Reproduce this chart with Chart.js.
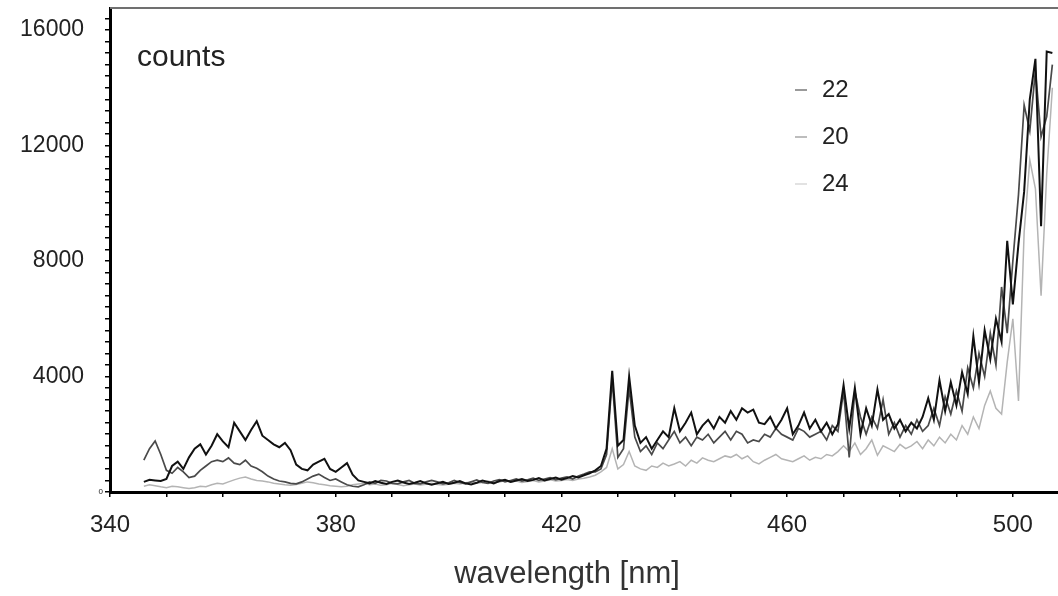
<!DOCTYPE html>
<html>
<head>
<meta charset="utf-8">
<script src="https://cdn.jsdelivr.net/npm/chart.js@4.4.1/dist/chart.umd.min.js"></script>
<style>
  html, body { margin: 0; padding: 0; background: #fff; }
  #wrap { width: 1058px; height: 596px; }
</style>
</head>
<body>
<div id="wrap"><canvas id="spectrum"></canvas></div>
<script>
// wavelength grid, nm
const wavelengths = [
  346, 347, 348, 349, 350, 351, 352, 353, 354, 355,
  356, 357, 358, 359, 360, 361, 362, 363, 364, 365,
  366, 367, 368, 369, 370, 371, 372, 373, 374, 375,
  376, 377, 378, 379, 380, 381, 382, 383, 384, 385,
  386, 387, 388, 389, 390, 391, 392, 393, 394, 395,
  396, 397, 398, 399, 400, 401, 402, 403, 404, 405,
  406, 407, 408, 409, 410, 411, 412, 413, 414, 415,
  416, 417, 418, 419, 420, 421, 422, 423, 424, 425,
  426, 427, 428, 429, 430, 431, 432, 433, 434, 435,
  436, 437, 438, 439, 440, 441, 442, 443, 444, 445,
  446, 447, 448, 449, 450, 451, 452, 453, 454, 455,
  456, 457, 458, 459, 460, 461, 462, 463, 464, 465,
  466, 467, 468, 469, 470, 471, 472, 473, 474, 475,
  476, 477, 478, 479, 480, 481, 482, 483, 484, 485,
  486, 487, 488, 489, 490, 491, 492, 493, 494, 495,
  496, 497, 498, 499, 500, 501, 502, 503, 504, 505,
  506, 507
];

const counts22 = [
  350, 420, 400, 380, 450, 900, 1050, 800, 1200, 1500,
  1650, 1300, 1600, 2000, 1750, 1550, 2400, 2100, 1800, 2150,
  2450, 1950, 1800, 1650, 1550, 1700, 1450, 950, 800, 750,
  950, 1050, 1150, 800, 700, 850, 1000, 600, 400, 350,
  300, 380, 320, 280, 350, 400, 330, 280, 320, 380,
  300, 250, 300, 350, 280, 320, 380, 300, 260, 320,
  400, 350, 300, 380, 420, 350, 400, 450, 380, 420,
  480, 400, 450, 500, 430, 480, 550, 500, 580, 650,
  750, 900, 1500, 4200, 1600, 1800, 4000, 2300, 1700, 1900,
  1500, 1800, 2100, 1900, 2900, 2100, 2400, 2750, 2000, 2300,
  2500, 2200, 2600, 2400, 2800, 2500, 2900, 2750, 2850, 2400,
  2350, 2600, 2200, 2500, 2900, 2000, 2300, 2750, 2200, 2500,
  2100, 2400, 2000, 2350, 3700, 2200, 3600, 2000, 2900, 2300,
  3550, 2500, 2700, 2200, 2500, 2100, 2400, 2200, 2600, 3250,
  2500, 3870, 2800, 3800, 3000, 4150, 3400, 5400, 3800, 5600,
  4600, 6000, 5200, 8700, 6500, 8600, 10400, 13600, 15000, 9200,
  15250, 15200
];

const counts20 = [
  1100, 1500, 1770, 1300, 750, 650, 850, 700, 500, 550,
  750, 900, 1050, 1100, 1050, 1180, 1000, 950, 1100, 900,
  820, 700, 550, 450, 380, 350, 300, 280, 350, 450,
  550, 620, 500, 400, 450, 350, 250, 200, 180, 250,
  350, 300, 400, 380, 300, 280, 350, 400, 300, 280,
  350, 400, 350, 280, 320, 400, 330, 280, 350, 420,
  330, 300, 380, 430, 350, 400, 450, 380, 420, 480,
  400, 450, 500, 420, 480, 520, 450, 550, 620, 700,
  700, 800, 1300, 3900, 1200, 1500, 3600, 1900, 1400, 1600,
  1300, 1700, 1500, 1800, 2100, 1700, 1900, 1600, 1900, 1800,
  2000, 1700, 1900, 2100, 1800, 2100, 2000, 1700, 1800, 1750,
  2000, 1900, 2200, 2000, 1900, 1800, 2200, 2100, 1900, 2000,
  2100, 1800, 2300, 2100, 3500, 1200, 3500, 2600, 2000, 2600,
  2200, 3200, 2000, 2400, 1900, 2300, 2000, 2500, 2100, 2300,
  2900, 2300, 3300, 2700, 3500, 2800, 4300, 3600, 4800, 4000,
  5500, 4400, 7100, 5500, 8000, 10300, 13400, 12500, 14600, 12300,
  13000, 14800
];

const counts24 = [
  200, 250, 220, 180, 150, 200, 180, 150, 120, 150,
  200, 180, 250, 300, 280, 350, 420, 480, 520, 450,
  400, 380, 350, 300, 280, 250, 230, 260, 300, 350,
  320, 280, 250, 220, 200, 180, 200, 250, 280, 300,
  250, 280, 230, 250, 300, 260, 220, 250, 280, 240,
  270, 300, 260, 240, 270, 300, 280, 320, 350, 300,
  330, 380, 320, 350, 400, 350, 380, 330, 360, 400,
  350, 380, 420, 380, 400, 430, 400, 450, 480, 520,
  580, 700, 850, 1500, 800, 950, 1400, 900, 800, 750,
  900, 850, 1000, 900, 970, 1050, 900, 1100, 1000, 1180,
  1100, 1050, 1150, 1250, 1200, 1300, 1150, 1250, 1050, 970,
  1100, 1200, 1300, 1150, 1100, 1050, 1150, 1250, 1100, 1200,
  1150, 1300, 1250, 1400, 1600, 1400, 1700, 1300, 1500, 1800,
  1270, 1600, 1500, 1400, 1650, 1500, 1600, 1750, 1500, 1800,
  1600, 1900, 1700, 2000, 1800, 2300, 2000, 2600, 2200, 3000,
  3500, 2900, 2700, 4500, 6000, 3150, 9000, 11500, 10500, 6800,
  11000, 14000
];

const seriesLabels = ['22', '20', '24'];
const xTickLabels = [340, 380, 420, 460, 500];
const xTickMarks = [340, 350, 360, 370, 380, 390, 400, 410, 420, 430, 440, 450, 460, 470, 480, 490, 500];
const yTickLabels = [0, 4000, 8000, 12000, 16000];
const yMinorStep = 400;

const FONT = '"Liberation Sans", Arial, sans-serif';
Chart.defaults.font.family = FONT;
Chart.defaults.color = '#222';

function toPoints(values) {
  return wavelengths.map((w, i) => ({ x: w, y: values[i] }));
}

// minor tick positions on the counts axis (every 400 up to the top label)
const yMinorTicks = [];
for (let v = 0; v <= 16400; v += yMinorStep) yMinorTicks.push(v);

function noPadding(scale) {
  scale.paddingTop = 0;
  scale.paddingBottom = 0;
  scale.paddingLeft = 0;
  scale.paddingRight = 0;
}

// frame top line, "counts", in-plot legend and the x title
const overlay = {
  id: 'overlay',
  afterDraw(chart, args, opts) {
    const { ctx, chartArea: a } = chart;
    ctx.save();
    ctx.strokeStyle = '#707070';
    ctx.lineWidth = 2;
    ctx.beginPath();
    ctx.moveTo(a.left, a.top);
    ctx.lineTo(a.right, a.top);
    ctx.stroke();

    ctx.fillStyle = '#222';
    ctx.textBaseline = 'middle';
    ctx.font = '30px ' + FONT;
    ctx.fillText('counts', a.left + 27, 58);

    ctx.font = '24px ' + FONT;
    chart.data.datasets.forEach((ds, i) => {
      const y = 90 + i * 47;
      ctx.strokeStyle = opts.markColors[i];
      ctx.lineWidth = 2;
      ctx.beginPath();
      ctx.moveTo(a.left + 685, y);
      ctx.lineTo(a.left + 697, y);
      ctx.stroke();
      ctx.fillStyle = '#222';
      ctx.fillText(ds.label, a.left + 712, y);
    });

    ctx.fillStyle = '#333';
    ctx.font = '31px ' + FONT;
    ctx.textAlign = 'center';
    ctx.fillText('wavelength [nm]', 567, 574);
    ctx.restore();
  }
};

new Chart(document.getElementById('spectrum'), {
  type: 'line',
  data: {
    datasets: [
      { label: seriesLabels[0], data: toPoints(counts22), borderColor: '#111111', borderWidth: 2 },
      { label: seriesLabels[1], data: toPoints(counts20), borderColor: '#4a4a4a', borderWidth: 1.7 },
      { label: seriesLabels[2], data: toPoints(counts24), borderColor: '#b4b4b4', borderWidth: 1.5 }
    ]
  },
  options: {
    responsive: true,
    maintainAspectRatio: false,
    animation: false,
    layout: { padding: { top: 8, left: 0, right: 0, bottom: 0 } },
    elements: {
      point: { radius: 0 },
      line: { tension: 0 }
    },
    plugins: {
      legend: { display: false },
      tooltip: { enabled: false },
      overlay: { markColors: ['#9a9a9a', '#bdbdbd', '#e2e2e2'] }
    },
    scales: {
      x: {
        type: 'linear',
        min: 340,
        max: 508,
        afterFit: (scale) => { scale.height = 104; noPadding(scale); },
        afterBuildTicks: (scale) => { scale.ticks = xTickMarks.map(v => ({ value: v })); },
        border: { color: '#000', width: 3 },
        grid: { drawOnChartArea: false, color: '#000', lineWidth: 1.5, tickLength: 5 },
        ticks: {
          autoSkip: false,
          includeBounds: false,
          maxRotation: 0,
          padding: 14,
          color: '#222',
          font: { size: 24 },
          callback: (v) => xTickLabels.includes(v) ? String(v) : ''
        }
      },
      y: {
        type: 'linear',
        position: 'left',
        weight: 1,
        min: 0,
        max: 16760,
        afterFit: (scale) => { scale.width = 96; noPadding(scale); },
        afterBuildTicks: (scale) => { scale.ticks = yTickLabels.map(v => ({ value: v })); },
        border: { display: false },
        grid: { display: false, drawTicks: false },
        ticks: {
          autoSkip: false,
          includeBounds: false,
          padding: 12,
          color: '#222',
          font: { size: 23 },
          callback: (v) => v === 0 ? '' : String(v)
        }
      },
      yMinor: {
        type: 'linear',
        position: 'left',
        weight: 0,
        min: 0,
        max: 16760,
        afterFit: (scale) => { scale.width = 14; noPadding(scale); },
        afterBuildTicks: (scale) => { scale.ticks = yMinorTicks.map(v => ({ value: v })); },
        border: { color: '#000', width: 3 },
        grid: { drawOnChartArea: false, color: '#000', lineWidth: 1.5, tickLength: 5 },
        ticks: {
          autoSkip: false,
          autoSkipPadding: 0,
          includeBounds: false,
          padding: 2,
          color: '#222',
          font: { size: 8 },
          callback: (v) => v === 0 ? '0' : ''
        }
      }
    }
  },
  plugins: [overlay]
});
</script>
</body>
</html>
